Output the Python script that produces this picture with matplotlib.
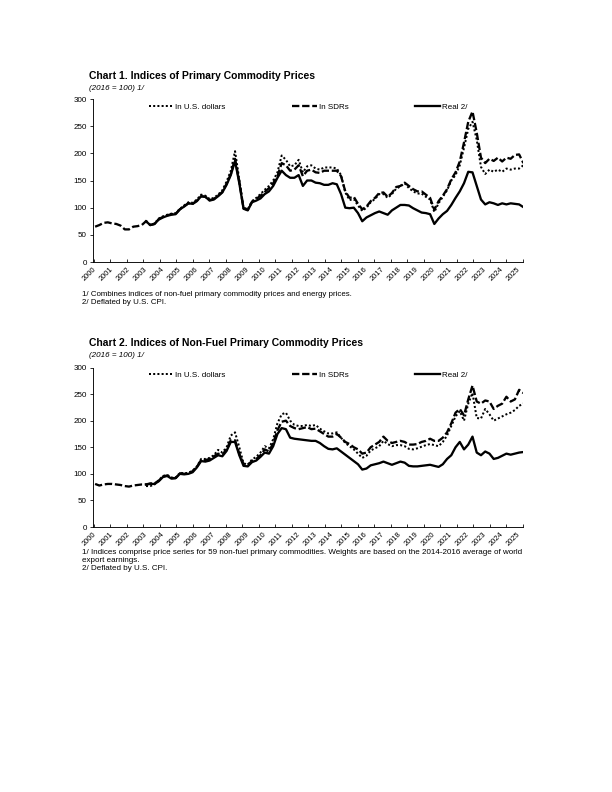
import numpy as np
import matplotlib
matplotlib.use("Agg")
import matplotlib.pyplot as plt
from matplotlib.lines import Line2D

plt.rcParams['font.family'] = ['Liberation Sans', 'DejaVu Sans']

# ---------------- data (quarterly, 2016 = 100) ----------------
start_year = 2000
usd_start_year = 2003   # U.S. dollar and real series start in 2003
n_quarters = 102        # 2000Q1 .. 2025Q2

# Chart 1: all primary commodities
c1_sdr = [65, 68, 72, 73, 71, 70, 67, 60, 60, 65, 66, 68,
          75, 68, 70, 79, 83, 86, 88, 89, 97, 103, 108, 107,
          113, 121, 120, 114, 116, 122, 129, 144, 162, 190, 148, 99,
          96, 111, 116, 122, 129, 136, 145, 158, 182, 178, 168, 170,
          178, 158, 168, 170, 165, 164, 168, 168, 168, 168, 158, 130,
          118, 120, 107, 97, 102, 112, 118, 127, 128, 120, 127, 138,
          140, 146, 140, 134, 130, 130, 124, 118, 96, 112, 122, 134,
          152, 165, 185, 220, 258, 277, 238, 192, 182, 190, 186, 192,
          185, 192, 190, 197, 198, 182]
c1_usd = [76, 68, 71, 80, 84, 87, 89, 90, 98, 104, 110, 109,
          115, 124, 122, 116, 118, 124, 132, 148, 168, 204, 152, 100,
          97, 112, 118, 125, 133, 140, 150, 165, 196, 188, 176, 178,
          188, 165, 176, 178, 172, 170, 174, 174, 174, 172, 160, 128,
          114, 116, 104, 94, 100, 110, 116, 125, 125, 118, 125, 135,
          139, 145, 136, 130, 126, 126, 120, 115, 92, 108, 120, 132,
          150, 160, 178, 210, 245, 258, 225, 175, 162, 170, 166, 170,
          166, 172, 170, 172, 172, 178]
c1_real = [75, 68, 70, 78, 82, 85, 87, 88, 97, 102, 108, 107,
           112, 121, 120, 113, 115, 121, 128, 142, 160, 186, 145, 98,
           95, 110, 113, 117, 125, 130, 140, 155, 168, 160, 155, 155,
           160, 140, 150, 150, 146, 145, 142, 142, 145, 143, 125, 100,
           99, 100, 90, 75, 82, 86, 90, 93, 90, 87, 95, 100,
           105, 105, 104, 99, 95, 91, 90, 88, 70, 80, 88, 94,
           105, 118, 130, 145, 166, 165, 140, 115, 106, 110, 108, 105,
           108, 106, 108, 107, 106, 101]

# Chart 2: non-fuel primary commodities
c2_sdr = [81, 78, 80, 81, 81, 80, 79, 77, 76, 78, 79, 80,
          80, 82, 82, 87, 95, 97, 92, 92, 101, 100, 101, 105,
          113, 126, 126, 128, 133, 138, 136, 146, 163, 163, 138, 118,
          117, 124, 128, 135, 146, 142, 158, 182, 198, 200, 190, 186,
          184, 186, 188, 184, 185, 180, 175, 170, 170, 175, 168, 160,
          156, 150, 146, 138, 140, 150, 155, 160, 170, 162, 158, 160,
          162, 160, 155, 155, 156, 160, 162, 166, 162, 162, 168, 178,
          195, 215, 222, 210, 240, 266, 236, 232, 238, 236, 222, 228,
          232, 245, 236, 240, 258, 252]
c2_usd = [77, 77, 80, 88, 96, 98, 93, 93, 102, 101, 102, 106,
          114, 128, 128, 130, 135, 145, 140, 150, 172, 178, 150, 120,
          117, 127, 132, 140, 152, 148, 165, 195, 212, 215, 200, 192,
          190, 190, 192, 190, 192, 185, 180, 176, 176, 178, 168, 158,
          152, 146, 138, 130, 134, 144, 148, 152, 162, 156, 152, 154,
          154, 152, 147, 146, 148, 151, 154, 156, 154, 152, 160, 172,
          190, 208, 218, 200, 232, 252, 205, 204, 222, 212, 200, 204,
          208, 212, 215, 220, 228, 232]
c2_real = [80, 81, 81, 86, 94, 96, 91, 92, 100, 99, 100, 103,
           112, 124, 123, 125, 130, 135, 133, 143, 160, 160, 135, 115,
           114, 122, 125, 132, 140, 138, 152, 175, 186, 184, 168, 166,
           165, 164, 163, 162, 162, 158, 152, 147, 146, 148, 142, 136,
           130, 124, 118, 108, 110, 116, 118, 120, 123, 120, 117, 120,
           123, 121, 115, 114, 114, 115, 116, 117, 115, 113, 118, 128,
           135, 150, 160, 146, 155, 170, 140, 135, 142, 138, 128, 130,
           134, 138, 136, 138, 140, 141]

year_labels = [str(y) for y in range(2000, 2026)]
y_ticks = [0, 50, 100, 150, 200, 250, 300]
legend_labels = ["In U.S. dollars", "In SDRs", "Real 2/"]

# quarter mid-points as decimal years
dates = np.array([start_year + i * 0.25 + 0.125 for i in range(n_quarters)])
offset = (usd_start_year - start_year) * 4

# ---------------- figure ----------------
W, H = 612, 792
fig = plt.figure(figsize=(W / 72, H / 72), dpi=72)

X0, X1 = 2000 + 1 / 17, 2000 + 431 / 17

styles = dict(
    usd=dict(color='black', lw=2.0, linestyle=(0, (1, 1.1)), dash_capstyle='butt'),
    sdr=dict(color='black', lw=2.3, linestyle=(0, (3.2, 1.2))),
    real=dict(color='black', lw=2.3, linestyle='-'),
)


def draw(rect, sdr, usd, real):
    ax = fig.add_axes(rect)
    ax.plot(dates[offset:], usd, **styles['usd'])
    ax.plot(dates[offset:], real, **styles['real'])
    ax.plot(dates, sdr, **styles['sdr'])
    ax.set_xlim(X0, X1)
    ax.set_ylim(0, 300)
    ax.set_yticks(y_ticks)
    ax.set_yticklabels([str(v) for v in y_ticks], fontsize=8)
    ax.tick_params(axis='y', direction='out', length=3, width=0.8, pad=3)
    ax.set_xticks([int(l) for l in year_labels])
    ax.set_xticklabels(year_labels, rotation=45, ha='right', va='top',
                       rotation_mode='anchor', fontsize=7.5)
    ax.tick_params(axis='x', which='major', length=0, pad=4)
    ax.set_xticks(np.linspace(X0, X1, 27), minor=True)
    ax.tick_params(axis='x', which='minor', direction='in', length=3, width=0.8)
    for s in ['top', 'right']:
        ax.spines[s].set_visible(False)
    for s in ['left', 'bottom']:
        ax.spines[s].set_linewidth(0.9)
    handles = [Line2D([], [], **styles['usd']),
               Line2D([], [], **styles['sdr']),
               Line2D([], [], **styles['real'])]
    ax.legend(handles, legend_labels, loc='upper center', bbox_to_anchor=(0.5, 1.02),
              ncol=3, frameon=False, fontsize=8, handlelength=3.1,
              handletextpad=0.25, columnspacing=8.3)
    return ax


left = 93 / W
width = (523 - 93) / W
draw([left, 1 - 262 / H, width, (262 - 99) / H], c1_sdr, c1_usd, c1_real)
draw([left, 1 - 527 / H, width, (527 - 367.5) / H], c2_sdr, c2_usd, c2_real)

tx = 89 / W
fig.text(tx, 1 - 76 / H, "Chart 1. Indices of Primary Commodity Prices",
         fontsize=10.4, fontweight='bold', va='center')
fig.text(tx, 1 - 88 / H, "(2016 = 100) 1/", fontsize=8, style='italic', va='center')
fn = 82 / W
fig.text(fn, 1 - 295 / H,
         "1/ Combines indices of non-fuel primary commodity prices and energy prices.",
         fontsize=7.9, va='center')
fig.text(fn, 1 - 303 / H, "2/ Deflated by U.S. CPI.", fontsize=7.9, va='center')

fig.text(tx, 1 - 343 / H, "Chart 2. Indices of Non-Fuel Primary Commodity Prices",
         fontsize=10.4, fontweight='bold', va='center')
fig.text(tx, 1 - 355 / H, "(2016 = 100) 1/", fontsize=8, style='italic', va='center')
fig.text(fn, 1 - 552.5 / H,
         "1/ Indices comprise price series for 59 non-fuel primary commodities. "
         "Weights are based on the 2014-2016 average of world",
         fontsize=8.05, va='center')
fig.text(fn, 1 - 560.5 / H, "export earnings.", fontsize=8.05, va='center')
fig.text(fn, 1 - 568.5 / H, "2/ Deflated by U.S. CPI.", fontsize=8.05, va='center')

fig.savefig("out.png", dpi=72)
